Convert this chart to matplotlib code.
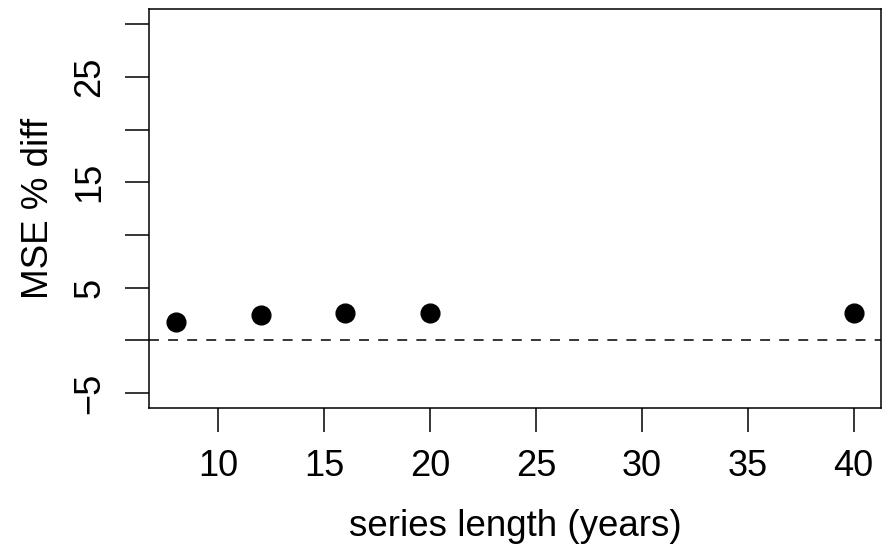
import matplotlib
matplotlib.use("Agg")
import matplotlib.pyplot as plt
from matplotlib.ticker import FixedLocator

plt.rcParams["font.family"] = ["Liberation Sans", "DejaVu Sans"]

# data
series_length = [8, 12, 16, 20, 40]
mse_pct_diff = [1.75, 2.43, 2.56, 2.56, 2.6]

x_ticks = [10, 15, 20, 25, 30, 35, 40]
y_labelled = [-5, 5, 15, 25]
y_unlabelled = [0, 10, 20, 30]

fig = plt.figure(figsize=(8.95, 5.48), dpi=100, facecolor="white")
ax = fig.add_axes([0.1665, 0.256, 0.984 - 0.1665, 0.9827 - 0.256])

ax.plot(series_length, mse_pct_diff, "o", color="black", markersize=13.5)
ax.axhline(0, color="black", lw=1.1, ls=(0, (6.5, 6)))

ax.set_xlim(6.72, 41.28)
ax.set_ylim(-6.4, 31.4)

ax.xaxis.set_major_locator(FixedLocator(x_ticks))
ax.yaxis.set_major_locator(FixedLocator(y_labelled))
ax.yaxis.set_minor_locator(FixedLocator(y_unlabelled))
ax.set_xticklabels([str(v) for v in x_ticks])
ax.set_yticklabels([str(v).replace("-", "\u2212") for v in y_labelled],
                   rotation=90, va="center")

for side in ["top", "right", "left", "bottom"]:
    ax.spines[side].set_linewidth(1.1)

ax.tick_params(axis="both", which="both", length=17, width=1.1, labelsize=26,
               direction="out")
ax.tick_params(axis="x", pad=13)
ax.tick_params(axis="y", pad=13)

ax.set_xlabel("series length (years)", fontsize=26.5, labelpad=18)
ax.set_ylabel("MSE % diff", fontsize=26.5, labelpad=12)

fig.savefig("out.png", dpi=100, facecolor="white")
